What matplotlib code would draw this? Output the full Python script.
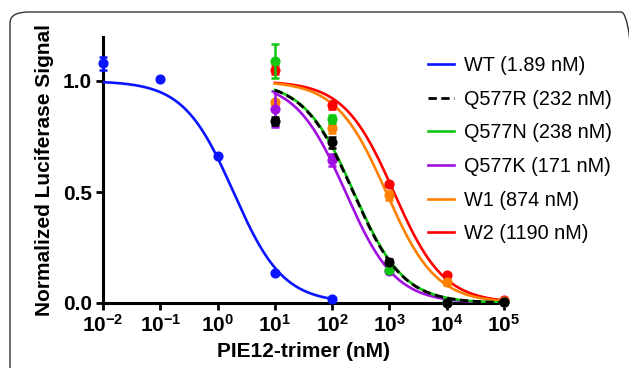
import numpy as np
import matplotlib
matplotlib.use("Agg")
import matplotlib.pyplot as plt
from matplotlib.patches import FancyBboxPatch

plt.rcParams['font.family'] = ['Liberation Sans', 'DejaVu Sans']
plt.rcParams['mathtext.fontset'] = 'custom'
plt.rcParams['mathtext.bf'] = 'Liberation Sans:bold'
plt.rcParams['mathtext.rm'] = 'Liberation Sans'

# ---- data ----
wt_x = [0.01, 0.1, 1, 10, 100]
mut_x = [10, 100, 1000, 10000, 100000]

names = ["WT", "Q577R", "Q577N", "Q577K", "W1", "W2"]
ic50 = [1.89, 232, 238, 171, 874, 1190]
colors = ["#0a14ff", "#000000", "#11c611", "#a010e0", "#ff8000", "#ff0000"]

wt_y = [1.08, 1.01, 0.66, 0.135, 0.017]
wt_err = [0.03, 0, 0, 0, 0]
q577r_y = [0.82, 0.724, 0.186, 0.002, 0.005]
q577r_err = [0.02, 0.025, 0.01, 0.005, 0]
q577n_y = [1.09, 0.829, 0.149, 0.005, 0.005]
q577n_err = [0.075, 0.02, 0.01, 0, 0]
q577k_y = [0.874, 0.644, 0.145, 0.003, 0.003]
q577k_err = [0.08, 0.025, 0.01, 0, 0]
w1_y = [0.904, 0.787, 0.486, 0.093, 0.01]
w1_err = [0.01, 0.02, 0.02, 0.01, 0]
w2_y = [1.05, 0.892, 0.535, 0.126, 0.012]
w2_err = [0.02, 0.02, 0.01, 0, 0]

xs = [wt_x, mut_x, mut_x, mut_x, mut_x, mut_x]
ys = [wt_y, q577r_y, q577n_y, q577k_y, w1_y, w2_y]
errs = [wt_err, q577r_err, q577n_err, q577k_err, w1_err, w2_err]
curve_ranges = [(1e-2, 1e2)] + [(1e1, 1e5)] * 5

xticks = [1e-2, 1e-1, 1e0, 1e1, 1e2, 1e3, 1e4, 1e5]
xticklabels = [r'$\mathbf{10^{-2}}$', r'$\mathbf{10^{-1}}$', r'$\mathbf{10^{0}}$',
               r'$\mathbf{10^{1}}$', r'$\mathbf{10^{2}}$', r'$\mathbf{10^{3}}$',
               r'$\mathbf{10^{4}}$', r'$\mathbf{10^{5}}$']
yticks = [0.0, 0.5, 1.0]

# ---- figure ----
W, H = 629, 368
fig = plt.figure(figsize=(W / 100, H / 100), dpi=100)
ax = fig.add_axes([103 / W, 1 - 303 / H, (504 - 103) / W, (303 - 36.6) / H])

# frame box
box = FancyBboxPatch((10 / W, -30 / H), (640 - 10) / W, (H - 12 + 30) / H,
                     boxstyle="round,pad=0,rounding_size=0.03",
                     transform=fig.transFigure, fill=False,
                     edgecolor="#333333", linewidth=1.0, clip_on=False)
fig.patches.append(box)

draw_order = [5, 4, 3, 2, 1, 0]
zorders = {0: 5, 1: 6, 2: 4, 3: 3, 4: 2, 5: 1}
handles = {}
for i in draw_order:
    lo, hi = curve_ranges[i]
    xc = np.logspace(np.log10(lo), np.log10(hi), 300)
    yc = 1.0 / (1.0 + xc / ic50[i])
    if names[i] == "Q577R":
        (ln,) = ax.plot(xc, yc, color=colors[i], lw=2.0, ls=(0, (3, 1.6)),
                        zorder=zorders[i] + 10)
    else:
        (ln,) = ax.plot(xc, yc, color=colors[i], lw=1.9, ls='-', zorder=zorders[i])
    handles[i] = ln
    ax.errorbar(xs[i], ys[i], yerr=errs[i], fmt='o', color=colors[i], ms=6.3,
                elinewidth=1.8, capsize=3, capthick=1.8, zorder=zorders[i] + 1,
                clip_on=False)

ax.set_xscale('log')
ax.set_xlim(1e-2, 1e5)
ax.set_ylim(0, 1.2)
ax.set_xticks(xticks)
ax.set_xticklabels(xticklabels)
ax.minorticks_off()
ax.set_yticks(yticks)
ax.set_yticklabels([f"{v:.1f}" for v in yticks], fontweight='bold')

for s in ['top', 'right']:
    ax.spines[s].set_visible(False)
for s in ['left', 'bottom']:
    ax.spines[s].set_linewidth(2.2)
ax.tick_params(axis='both', which='major', length=5, width=2.0, labelsize=15, pad=3)

ax.set_xlabel("PIE12-trimer (nM)", fontsize=15, fontweight='bold', labelpad=4)
ax.set_ylabel("Normalized Luciferase Signal", fontsize=15, fontweight='bold', labelpad=6)

leg = fig.legend([handles[i] for i in range(6)],
                 [f"{names[i]} ({ic50[i]:g} nM)" for i in range(6)],
                 loc='upper left', bbox_to_anchor=(420 / W, 1 - 48 / H),
                 frameon=False, fontsize=14.3, handlelength=1.3,
                 handletextpad=0.5, labelspacing=0.74, borderaxespad=0)

fig.savefig("out.png", dpi=100)
